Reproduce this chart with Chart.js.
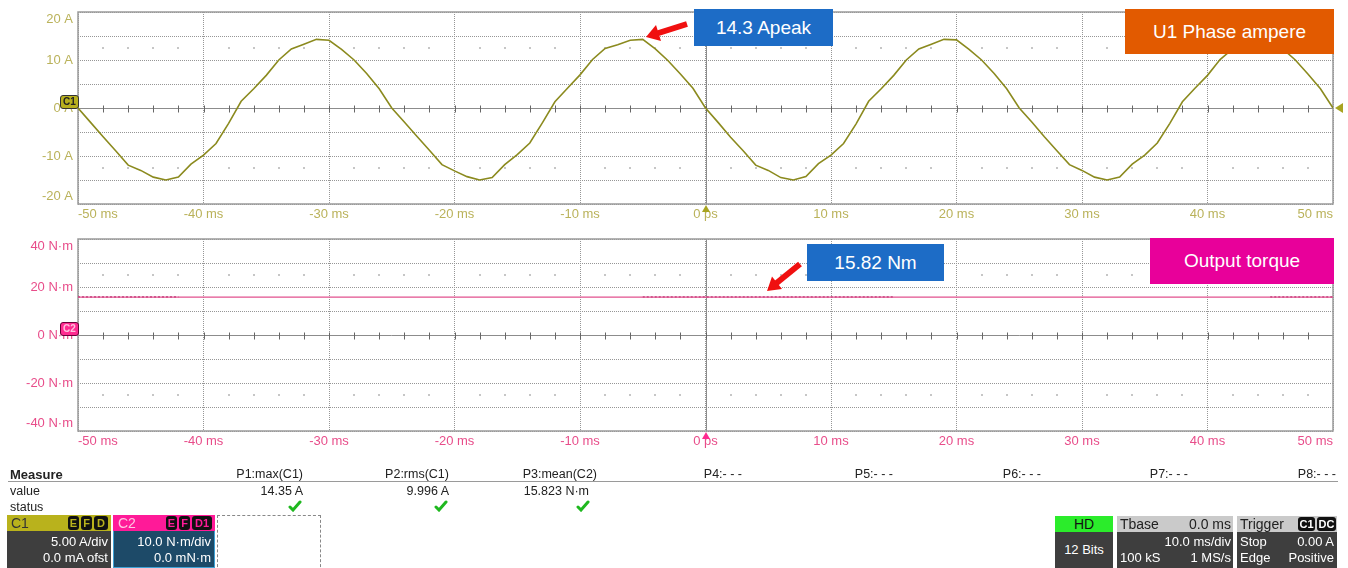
<!DOCTYPE html>
<html>
<head>
<meta charset="utf-8">
<script src="https://cdn.jsdelivr.net/npm/chart.js@4.4.1/dist/chart.umd.min.js"></script>
<style>
body { margin: 0; background: #fff; font-family: "Liberation Sans", Arial, sans-serif; }
#page { position: relative; width: 1348px; height: 568px; overflow: hidden; }
canvas { position: absolute; left: 0; }
.abs { position: absolute; }
.callout { position: absolute; color: #fff; font-size: 19px; display: flex; align-items: center; justify-content: center; }
.row { position: absolute; font-size: 12.5px; color: #222; white-space: nowrap; }
.hdr { position: absolute; height: 16px; font-size: 14px; line-height: 16px; }
.body { position: absolute; background: #3e3e3e; color: #fff; font-size: 13px; }
.body span { position: absolute; white-space: nowrap; line-height: 15px; }
.badge { position: absolute; top: 1px; height: 14px; background: #111; border-radius: 3px; font-size: 11px; line-height: 14px; text-align: center; font-weight: bold; }
.tri { position: absolute; width: 0; height: 0; }
</style>
</head>
<body>
<div id="page">
  <canvas id="ampChart" width="1348" height="225" style="top:0"></canvas>
  <canvas id="torqueChart" width="1348" height="226" style="top:226px"></canvas>
</div>
<script>
// time axis, 1 ms per sample
const timeMs = [];
for (let t = -50; t <= 50; t++) timeMs.push(t);

// phase current (A), -50 ms .. 50 ms
const currentA = [
  0, -3.0, -6.0, -8.9, -11.9, -13.0, -14.4, -15.0, -14.4, -11.7, -9.8, -7.4, -3.2, 1.4, 4.0, 6.8, 10.0, 12.3, 13.3, 14.3, 14.1, 12.2, 10.0, 7.2, 4.0,
  0, -2.9, -5.9, -8.8, -11.8, -13.1, -14.3, -15.0, -14.5, -11.8, -9.7, -7.3, -3.1, 1.3, 4.1, 6.9, 10.1, 12.4, 13.2, 14.1, 14.3, 12.3, 9.9, 7.1, 4.1,
  0, -3.0, -6.1, -8.9, -11.9, -13.0, -14.5, -15.0, -14.3, -11.6, -9.8, -7.4, -3.3, 1.4, 4.0, 6.8, 10.0, 12.3, 13.3, 14.3, 14.2, 12.2, 10.0, 7.2, 4.0,
  0, -2.9, -6.0, -8.9, -11.8, -13.0, -14.4, -15.0, -14.4, -11.7, -9.8, -7.3, -3.2, 1.3, 4.1, 6.8, 10.1, 12.3, 13.2, 14.2, 14.3, 12.3, 10.0, 7.1, 4.0,
  0
];

// output torque (N·m)
const torqueTime = [-50, -40, -30, -20, -10, 0, 10, 20, 30, 40, 50];
const torqueNm = [15.8, 15.8, 15.8, 15.8, 15.8, 15.8, 15.8, 15.8, 15.8, 15.8, 15.8];
// darker noisy stretches on the torque trace
const torqueNoiseTime = [-50, -42, null, -5, 15, null, 45, 50];
const torqueNoiseNm = [15.8, 15.8, null, 15.8, 15.8, null, 15.8, 15.8];

const measureHeads = ["P1:max(C1)", "P2:rms(C1)", "P3:mean(C2)", "P4:- - -", "P5:- - -", "P6:- - -", "P7:- - -", "P8:- - -"];
const measureValues = ["14.35 A", "9.996 A", "15.823 N\u00b7m", "", "", "", "", ""];
const measureRight = [303, 449, 597, 742, 893, 1041, 1188, 1336];

const OLIVE = "#bab25a";
const PINK = "#e84d8a";

function timeLabel(v) {
  return v === 0 ? "0 ps" : v + " ms";
}

// scope grid extras: centre cross with minor ticks, faint dots, frame
const scopeGrid = {
  id: "scopeGrid",
  beforeDatasetsDraw(chart, args, opts) {
    const { ctx, chartArea: a, scales: { x, y } } = chart;
    ctx.save();
    ctx.fillStyle = "#c6c6c6";
    for (let t = -48; t <= 48; t += 2) {
      if (t % 10 === 0) continue;
      opts.dots.forEach((v) => {
        ctx.fillRect(Math.round(x.getPixelForValue(t)) - 1, Math.round(y.getPixelForValue(v)) - 1, 2, 2);
      });
    }
    const y0 = Math.round(y.getPixelForValue(0)) + 0.5;
    const x0 = Math.round(x.getPixelForValue(0)) + 0.5;
    ctx.strokeStyle = "#8c8c8c";
    ctx.lineWidth = 1;
    ctx.beginPath();
    ctx.moveTo(a.left, y0); ctx.lineTo(a.right, y0);
    ctx.moveTo(x0, a.top); ctx.lineTo(x0, a.bottom);
    ctx.stroke();
    ctx.strokeStyle = "#666";
    ctx.beginPath();
    for (let t = -48; t <= 48; t += 2) {
      const px = Math.round(x.getPixelForValue(t)) + 0.5;
      ctx.moveTo(px, y0 - 3); ctx.lineTo(px, y0 + 4);
    }
    ctx.stroke();
    ctx.strokeStyle = "#9a9a9a";
    ctx.lineWidth = 1.5;
    ctx.strokeRect(a.left, a.top, a.right - a.left, a.bottom - a.top);
    ctx.restore();
  }
};

function scopeOptions(yMin, yMax, yStep, unit, color, dots, padTop) {
  return {
    responsive: false,
    animation: false,
    layout: { padding: { left: 0, right: 15, top: padTop, bottom: 0 } },
    plugins: { legend: { display: false }, tooltip: { enabled: false }, scopeGrid: { dots: dots } },
    scales: {
      x: {
        type: "linear", min: -50, max: 50,
        afterFit: (s) => { s.height = 21; s.paddingLeft = 0; s.paddingRight = 0; },
        grid: { color: "#969696", lineWidth: 1, drawTicks: false },
        border: { display: false, dash: [1, 1] },
        ticks: {
          stepSize: 10, autoSkip: false, maxRotation: 0, align: "inner", padding: 3,
          color: color, font: { family: "Liberation Sans", size: 13 },
          callback: timeLabel
        }
      },
      y: {
        min: yMin, max: yMax,
        afterFit: (s) => { s.width = 78; s.paddingTop = 0; s.paddingBottom = 0; },
        grid: { color: "#969696", lineWidth: 1, drawTicks: false },
        border: { display: false, dash: [1, 1] },
        ticks: {
          stepSize: yStep, autoSkip: false, padding: 5,
          color: color, font: { family: "Liberation Sans", size: 13 },
          callback: (v) => {
            if (v % (yStep * 2) !== 0) return "";
            const s = v + " " + unit;
            if (v === yMax) return ["", s];
            if (v === yMin) return [s, ""];
            return s;
          }
        }
      }
    }
  };
}

new Chart(document.getElementById("ampChart"), {
  type: "line",
  data: {
    datasets: [{
      data: timeMs.map((t, i) => ({ x: t, y: currentA[i] })),
      borderColor: "#8b8a1e", borderWidth: 1.6, pointRadius: 0, tension: 0
    }]
  },
  options: scopeOptions(-20, 20, 5, "A", OLIVE, [12.5, -12.5], 12),
  plugins: [scopeGrid]
});

new Chart(document.getElementById("torqueChart"), {
  type: "line",
  data: {
    datasets: [{
      data: torqueTime.map((t, i) => ({ x: t, y: torqueNm[i] })),
      borderColor: "#e2508e", borderWidth: 1.3, pointRadius: 0, tension: 0
    }, {
      data: torqueNoiseTime.map((t, i) => ({ x: t, y: torqueNoiseNm[i] })),
      borderColor: "#a3306a", borderWidth: 1.5, borderDash: [2, 2], pointRadius: 0, spanGaps: false
    }]
  },
  options: scopeOptions(-40, 40, 10, "N\u00b7m", PINK, [25, -25], 13),
  plugins: [scopeGrid]
});

// overlays (markers, callouts, measure panel, status boxes)
const page = document.getElementById("page");
function add(html) { page.insertAdjacentHTML("beforeend", html); }

// channel markers and trigger arrows
add('<div class="abs" style="left:60px;top:95px;width:17px;height:12px;background:#b8b01e;border:1px solid #333;border-radius:3px;font-size:10px;line-height:12px;text-align:center;color:#222;font-weight:bold">C1</div>');
add('<div class="abs" style="left:60px;top:322px;width:17px;height:12px;background:#ff2a90;border:1px solid #6a0038;border-radius:3px;font-size:10px;line-height:12px;text-align:center;color:#ffc0de;font-weight:bold">C2</div>');
add('<div class="tri" style="left:1335px;top:103px;border-top:5px solid transparent;border-bottom:5px solid transparent;border-right:8px solid #a8a420"></div>');
add('<div class="tri" style="left:702px;top:205px;border-left:4px solid transparent;border-right:4px solid transparent;border-bottom:7px solid #a8a420"></div>');
add('<div class="tri" style="left:702px;top:432px;border-left:4px solid transparent;border-right:4px solid transparent;border-bottom:7px solid #ff2a90"></div>');

// callouts
add('<div class="callout" style="left:694px;top:9px;width:139px;height:37px;background:#1d6cc6">14.3 Apeak</div>');
add('<div class="callout" style="left:1125px;top:9px;width:209px;height:45px;background:#e25a00">U1 Phase ampere</div>');
add('<div class="callout" style="left:807px;top:244px;width:137px;height:37px;background:#1d6cc6">15.82 Nm</div>');
add('<div class="callout" style="left:1150px;top:238px;width:184px;height:46px;background:#e8009a">Output torque</div>');
add('<svg class="abs" style="left:0;top:0" width="1348" height="568">' +
  '<line x1="687" y1="24" x2="657" y2="33.5" stroke="#f01010" stroke-width="6"/>' +
  '<polygon points="646,37 661,41 656,25" fill="#f01010"/>' +
  '<line x1="800" y1="264" x2="776" y2="283.5" stroke="#f01010" stroke-width="6"/>' +
  '<polygon points="767,291 782,289 772,276.5" fill="#f01010"/>' +
  '</svg>');

// measure table
add('<div class="row" style="left:10px;top:467px;font-weight:bold;font-size:13px">Measure</div>');
add('<div class="row" style="left:10px;top:484px">value</div>');
add('<div class="row" style="left:10px;top:500px">status</div>');
add('<div class="abs" style="left:8px;top:481px;width:1330px;height:1px;background:#9a9a9a"></div>');
measureHeads.forEach((h, i) => {
  const r = 1348 - measureRight[i];
  add('<div class="row" style="right:' + r + 'px;top:467px">' + h + '</div>');
  if (measureValues[i]) {
    add('<div class="row" style="right:' + (r + (i === 2 ? 8 : 0)) + 'px;top:484px">' + measureValues[i] + '</div>');
    const cx = measureRight[i] - (i === 2 ? 14 : 8);
    add('<svg class="abs" style="left:' + (cx - 7) + 'px;top:500px" width="14" height="12"><polyline points="2,7 5,10 12,2" fill="none" stroke="#1fb81f" stroke-width="3" stroke-linecap="round"/></svg>');
  }
});

// channel boxes
add('<div class="hdr" style="left:7px;top:515px;width:104px;background:#b9b21c;color:#333"><span style="position:absolute;left:4px">C1</span></div>');
add('<div class="badge" style="left:68px;top:516px;width:11px;color:#b9b21c">E</div>');
add('<div class="badge" style="left:81px;top:516px;width:11px;color:#b9b21c">F</div>');
add('<div class="badge" style="left:94px;top:516px;width:14px;color:#b9b21c">D</div>');
add('<div class="body" style="left:7px;top:531px;width:104px;height:37px"><span style="right:3px;top:3px">5.00 A/div</span><span style="right:3px;top:19px">0.0 mA ofst</span></div>');
add('<div class="hdr" style="left:113px;top:515px;width:102px;background:#ff1a98;color:#ffc6e2"><span style="position:absolute;left:5px">C2</span></div>');
add('<div class="badge" style="left:166px;top:516px;width:11px;color:#ff1a98">E</div>');
add('<div class="badge" style="left:179px;top:516px;width:11px;color:#ff1a98">F</div>');
add('<div class="badge" style="left:192px;top:516px;width:20px;color:#ff1a98">D1</div>');
add('<div class="body" style="left:113px;top:531px;width:100px;height:36px;background:#1d4a68;border:1px solid #3ea2d6;border-top:none"><span style="right:3px;top:3px">10.0 N\u00b7m/div</span><span style="right:3px;top:19px">0.0 mN\u00b7m</span></div>');
add('<div class="abs" style="left:217px;top:515px;width:102px;height:55px;border:1px dashed #888"></div>');

// acquisition boxes
add('<div class="hdr" style="left:1055px;top:516px;width:58px;background:#2bec2b;color:#111;text-align:center">HD</div>');
add('<div class="body" style="left:1055px;top:532px;width:58px;height:36px"><span style="left:0;width:58px;text-align:center;top:10px">12 Bits</span></div>');
add('<div class="hdr" style="left:1117px;top:516px;width:116px;background:#cacaca;color:#222"><span style="position:absolute;left:3px">Tbase</span><span style="position:absolute;right:2px">0.0 ms</span></div>');
add('<div class="body" style="left:1117px;top:532px;width:116px;height:36px"><span style="right:2px;top:2px">10.0 ms/div</span><span style="left:3px;top:18px">100 kS</span><span style="right:2px;top:18px">1 MS/s</span></div>');
add('<div class="hdr" style="left:1237px;top:516px;width:100px;background:#cacaca;color:#222"><span style="position:absolute;left:3px">Trigger</span></div>');
add('<div class="badge" style="left:1298px;top:517px;width:17px;color:#fff">C1</div>');
add('<div class="badge" style="left:1317px;top:517px;width:19px;color:#fff">DC</div>');
add('<div class="body" style="left:1237px;top:532px;width:100px;height:36px"><span style="left:3px;top:2px">Stop</span><span style="right:3px;top:2px">0.00 A</span><span style="left:3px;top:18px">Edge</span><span style="right:3px;top:18px">Positive</span></div>');
</script>
</body>
</html>
